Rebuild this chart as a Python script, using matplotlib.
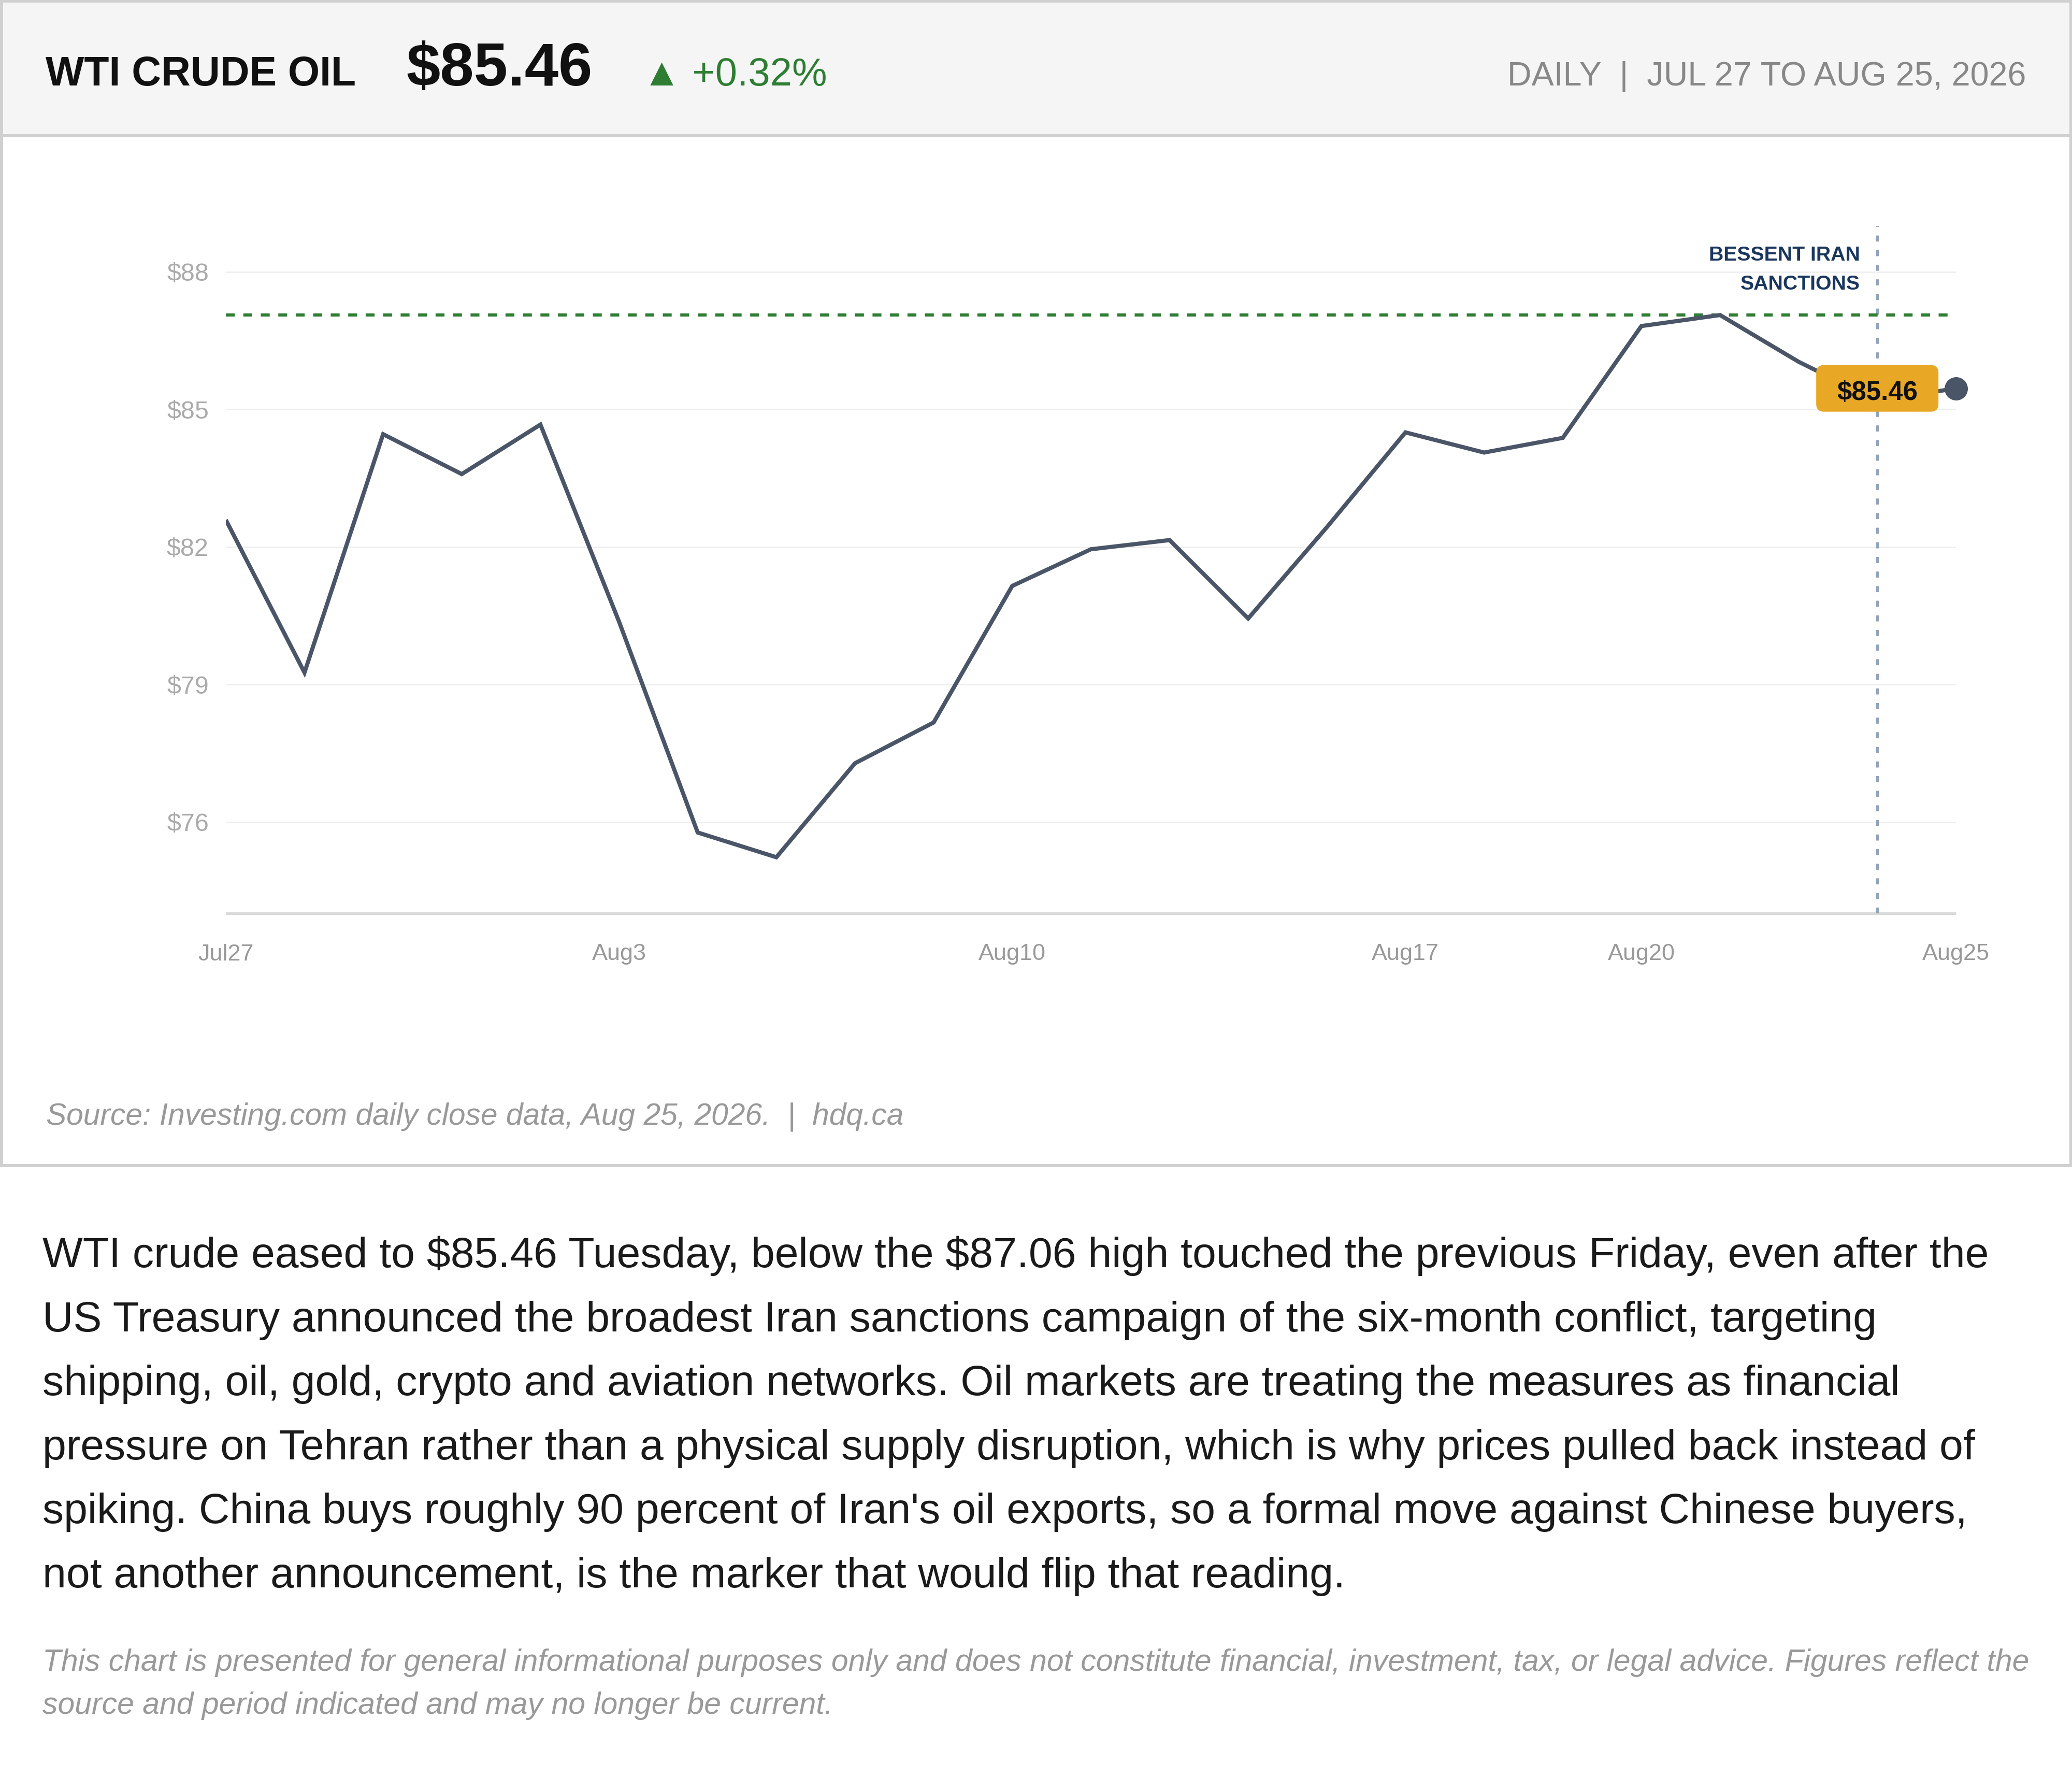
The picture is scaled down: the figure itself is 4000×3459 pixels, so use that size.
import matplotlib
matplotlib.use("Agg")
import matplotlib.pyplot as plt
from matplotlib.patches import FancyBboxPatch, Rectangle
from matplotlib.transforms import IdentityTransform

plt.rcParams["font.family"] = ["Liberation Sans", "DejaVu Sans"]
plt.rcParams["lines.scale_dashes"] = False

W, H = 4000, 3459

# daily closes
closes = [82.59, 79.26, 84.46, 83.59, 84.67, 80.37, 75.77, 75.23, 77.28, 78.17, 81.15, 81.95,
          82.15, 80.44, 82.43, 84.50, 84.06, 84.38, 86.82, 87.06, 86.04, 85.19, 85.46]
high = 87.06
event_index = 21
y_ticks = [76, 79, 82, 85, 88]
y_labels = ["$76", "$79", "$82", "$85", "$88"]
x_ticks = [0, 5, 10, 15, 18, 22]
x_labels = ["Jul27", "Aug3", "Aug10", "Aug17", "Aug20", "Aug25"]

title = "WTI CRUDE OIL"
price = "$85.46"
change = "▲ +0.32%"
period = "DAILY  |  JUL 27 TO AUG 25, 2026"
source = "Source: Investing.com daily close data, Aug 25, 2026.  |  hdq.ca"
event_lines = ["BESSENT IRAN", "SANCTIONS"]
paragraph = [
    "WTI crude eased to $85.46 Tuesday, below the $87.06 high touched the previous Friday, even after the",
    "US Treasury announced the broadest Iran sanctions campaign of the six-month conflict, targeting",
    "shipping, oil, gold, crypto and aviation networks. Oil markets are treating the measures as financial",
    "pressure on Tehran rather than a physical supply disruption, which is why prices pulled back instead of",
    "spiking. China buys roughly 90 percent of Iran's oil exports, so a formal move against Chinese buyers,",
    "not another announcement, is the marker that would flip that reading.",
]
disclaimer = [
    "This chart is presented for general informational purposes only and does not constitute financial, investment, tax, or legal advice. Figures reflect the",
    "source and period indicated and may no longer be current.",
]


def pt(px):
    # sizes below are measured in output pixels
    return px * 0.72


def page_text(x, y, s, size, **kw):
    fig.text(x / W, 1 - y / H, s, fontsize=pt(size), va="baseline", parse_math=False, **kw)


def page_rect(x0, y0, x1, y1, color, zorder=-5):
    fig.add_artist(Rectangle((x0 / W, 1 - y1 / H), (x1 - x0) / W, (y1 - y0) / H,
                             transform=fig.transFigure, facecolor=color, edgecolor="none", zorder=zorder))


fig = plt.figure(figsize=(W / 100, H / 100), dpi=100, facecolor="white")

# header band and card frame
border = "#D0D0D0"
page_rect(0, 0, W, 262, "#F5F5F5", zorder=-6)
page_rect(0, 0, W, 5.5, border)
page_rect(0, 259.5, W, 265, border)
page_rect(0, 2247, W, 2252.5, border)
page_rect(0, 0, 5.5, 2252.5, border)
page_rect(W - 5.5, 0, W, 2252.5, border)

page_text(88, 165, title, 78.7, fontweight="bold", color="#111111")
page_text(784, 165, price, 117.5, fontweight="bold", color="#111111")
page_text(1240, 165, change, 76, color="#2E7D32")
page_text(3911, 165, period, 64.65, color="#888888", ha="right")
page_text(89, 2171, source, 58.8, color="#999999", fontstyle="italic")

for i, line in enumerate(paragraph):
    page_text(82, 2446 + i * 123.6, line, 82.35, color="#1A1A1A")
for i, line in enumerate(disclaimer):
    page_text(82, 3224.5 + i * 83, line, 58.9, color="#999999", fontstyle="italic")

# chart
ax = fig.add_axes([436 / W, 1 - 1763.5 / H, 3340 / W, 1327 / H])
ax.set_xlim(0, 22)
ax.set_ylim(74, 89)
ax.patch.set_alpha(0)
for side in ["top", "left", "right"]:
    ax.spines[side].set_visible(False)
ax.spines["bottom"].set_color("#D9D9D9")
ax.spines["bottom"].set_linewidth(pt(5))
ax.spines["bottom"].set_capstyle("butt")
ax.spines["bottom"].set_zorder(1.5)

ax.set_yticks(y_ticks, y_labels)
ax.set_xticks(x_ticks, x_labels)
ax.tick_params(axis="y", length=0, pad=pt(33), labelsize=pt(48.5), labelcolor="#AAAAAA")
ax.tick_params(axis="x", length=0, pad=pt(58), labelsize=pt(45), labelcolor="#999999")
ax.grid(axis="y", color="#EEEEEE", linewidth=pt(2.6), zorder=1)
ax.set_axisbelow(True)

ax.axvline(event_index, color="#94A3B8", linewidth=pt(5.1), linestyle=(0, (pt(11.7), pt(16.5))), zorder=2)
ax.axhline(high, color="#2E7D32", linewidth=pt(6), linestyle=(0, (pt(17.2), pt(16.54))), zorder=3)
ax.plot(range(len(closes)), closes, color="#4A5568", linewidth=pt(8), solid_joinstyle="miter",
        solid_capstyle="butt", zorder=4)
ax.plot([len(closes) - 1], [closes[-1]], "o", color="#4A5568", markersize=pt(45), markeredgewidth=0,
        clip_on=False, zorder=6)

# event note sits left of the marker line
for i, line in enumerate(event_lines):
    ax.annotate(line, xy=(event_index, 89), xytext=(-33, -67 - i * 56), textcoords="offset pixels",
                ha="right", va="baseline", fontsize=pt(39.2), fontweight="bold", color="#1A365D", zorder=5)

# last price tag
cx, cy = ax.transData.transform((event_index, closes[-1]))
ax.add_patch(FancyBboxPatch((cx - 118 + 15, cy - 45 + 15), 236 - 30, 90 - 30,
                            boxstyle="round,pad=15,rounding_size=15", transform=IdentityTransform(),
                            facecolor="#E8A825", edgecolor="none", clip_on=False, zorder=7))
ax.annotate(price, xy=(event_index, closes[-1]), xytext=(0, -22), textcoords="offset pixels",
            ha="center", va="baseline", fontsize=pt(51), fontweight="bold", color="#111111", zorder=8)

fig.savefig("out.png", dpi=100)
